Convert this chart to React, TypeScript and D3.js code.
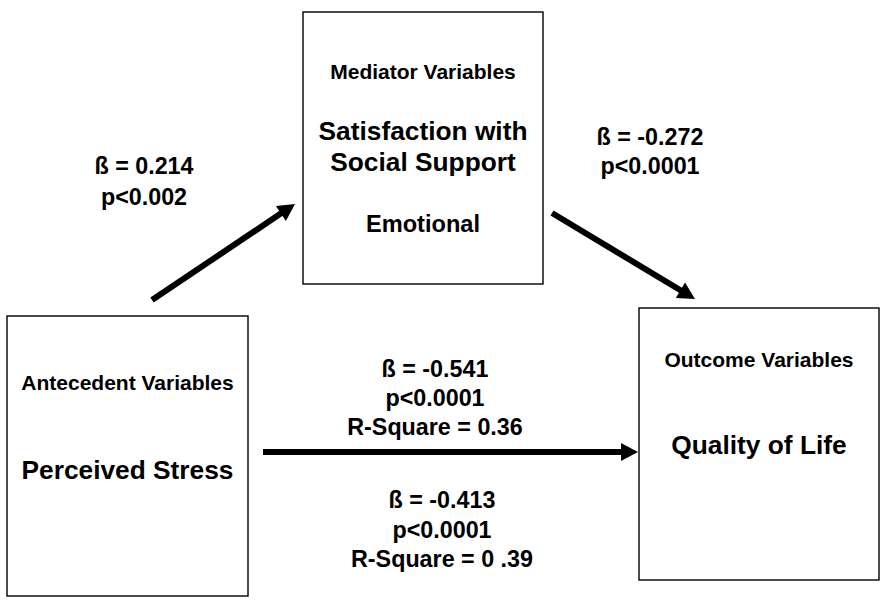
import React, { useEffect, useRef } from "react";
import * as d3 from "d3";

// text content of the mediation model
const boxTitles = ["Antecedent Variables", "Mediator Variables", "Outcome Variables"];
const boxNames = [["Perceived Stress"], ["Satisfaction with", "Social Support"], ["Quality of Life"]];
const mediatorType = ["Emotional"];
const pathA = ["ß = 0.214", "p<0.002"];
const pathB = ["ß = -0.272", "p<0.0001"];
const pathTotal = ["ß = -0.541", "p<0.0001", "R-Square = 0.36"];
const pathDirect = ["ß = -0.413", "p<0.0001", "R-Square = 0 .39"];

const W = 881,
  H = 604;
const FONT = "'Liberation Sans', Arial, Helvetica, sans-serif";

// layout (page coordinates)
const boxRects = [
  { x: 7, y: 316, w: 241, h: 280 },
  { x: 303, y: 12, w: 240, h: 272 },
  { x: 639, y: 308, w: 240, h: 272 }
];
const titleY = [390, 79, 367];
const nameY = [[479], [140, 171], [454]];
const typeY = [232];
const labelPos = [
  { cx: 144, ys: [174, 205] },
  { cx: 650, ys: [145, 174] },
  { cx: 435, ys: [377, 406, 435] },
  { cx: 442, ys: [508, 538, 567] }
];
const arrowPos = [
  [[152, 300], [295, 204]],
  [[552, 213], [695, 299]],
  [[263, 452], [638, 452]]
];

export default function App() {
  const ref = useRef<SVGSVGElement>(null);

  useEffect(() => {
    const svg = d3.select(ref.current);
    svg.selectAll("*").remove();
    svg.append("rect").attr("width", W).attr("height", H).attr("fill", "#fff");

    // boxes
    svg
      .selectAll(".box")
      .data(boxRects)
      .enter()
      .append("rect")
      .attr("class", "box")
      .attr("x", d => d.x)
      .attr("y", d => d.y)
      .attr("width", d => d.w)
      .attr("height", d => d.h)
      .attr("fill", "#fff")
      .attr("stroke", "#111")
      .attr("stroke-width", 1.5);

    const text = (x: number, y: number, s: string, size: number) =>
      svg
        .append("text")
        .attr("x", x)
        .attr("y", y)
        .attr("text-anchor", "middle")
        .attr("font-family", FONT)
        .attr("font-weight", "bold")
        .attr("font-size", size)
        .attr("fill", "#000")
        .text(s);

    boxTitles.forEach((t, i) => {
      const cx = boxRects[i].x + boxRects[i].w / 2;
      text(cx, titleY[i], t, 21);
      boxNames[i].forEach((n, j) => text(cx, nameY[i][j], n, 26.3));
    });
    mediatorType.forEach((t, j) => text(boxRects[1].x + boxRects[1].w / 2, typeY[j], t, 23.6));

    // coefficients
    [pathA, pathB, pathTotal, pathDirect].forEach((lines, i) => {
      lines.forEach((l, j) => text(labelPos[i].cx, labelPos[i].ys[j], l, 23.3));
    });

    // arrows
    const line = d3.line();
    const headLen = 17,
      headHalf = 9;
    arrowPos.forEach(([a, b]) => {
      const dx = b[0] - a[0],
        dy = b[1] - a[1];
      const len = Math.hypot(dx, dy);
      const ux = dx / len,
        uy = dy / len;
      const base: [number, number] = [b[0] - ux * headLen, b[1] - uy * headLen];
      svg
        .append("path")
        .attr("d", line([a as [number, number], [base[0] + ux * 2, base[1] + uy * 2]]))
        .attr("stroke", "#000")
        .attr("stroke-width", 6)
        .attr("fill", "none");
      svg
        .append("path")
        .attr(
          "d",
          line([
            b as [number, number],
            [base[0] - uy * headHalf, base[1] + ux * headHalf],
            [base[0] + uy * headHalf, base[1] - ux * headHalf]
          ]) + "Z"
        )
        .attr("fill", "#000");
    });
  }, []);

  return (
    <svg
      ref={ref}
      width={W}
      height={H}
      style={{ position: "absolute", left: 0, top: 0, display: "block" }}
    />
  );
}
